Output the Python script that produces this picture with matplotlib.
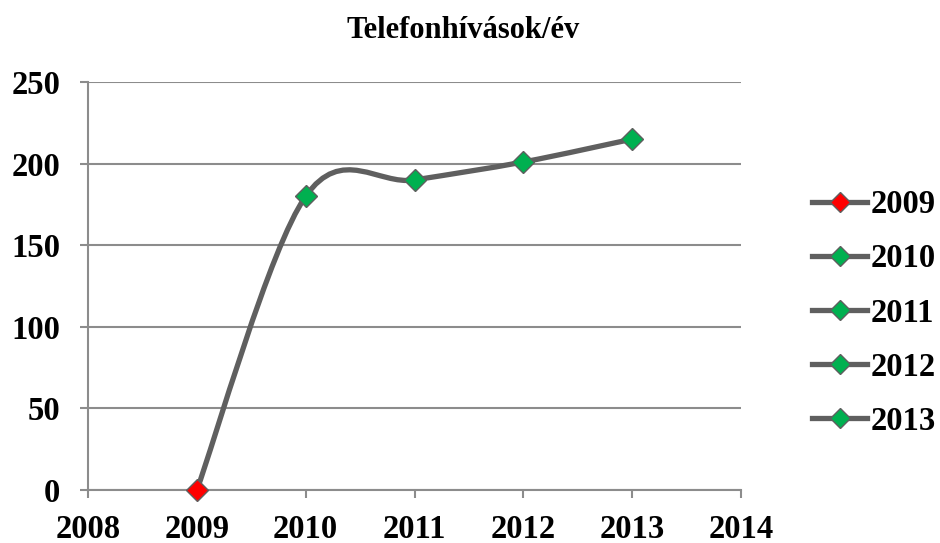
import matplotlib
matplotlib.use('Agg')

import matplotlib.pyplot as plt
from matplotlib.path import Path
import matplotlib.patches as patches

years = [2009, 2010, 2011, 2012, 2013]
calls = [0, 180, 190, 201, 215]
marker_colors = ['#FF0000', '#00B050', '#00B050', '#00B050', '#00B050']
labels = ['2009', '2010', '2011', '2012', '2013']
x_ticks = [2008, 2009, 2010, 2011, 2012, 2013, 2014]
y_ticks = [0, 50, 100, 150, 200, 250]

LINE = '#5F5F5F'
GRID = '#8C8C8C'
FONT = 'Liberation Serif'


def smooth_path(xs, ys):
    # Catmull-Rom style bezier, like Excel's smoothed line
    verts = [(xs[0], ys[0])]
    codes = [Path.MOVETO]
    n = len(xs)
    for i in range(n - 1):
        x0, y0 = (xs[i - 1], ys[i - 1]) if i > 0 else (xs[i], ys[i])
        x1, y1 = xs[i], ys[i]
        x2, y2 = xs[i + 1], ys[i + 1]
        x3, y3 = (xs[i + 2], ys[i + 2]) if i + 2 < n else (x2, y2)
        c1 = (x1 + (x2 - x0) / 6, y1 + (y2 - y0) / 6)
        c2 = (x2 - (x3 - x1) / 6, y2 - (y3 - y1) / 6)
        verts += [c1, c2, (x2, y2)]
        codes += [Path.CURVE4] * 3
    return Path(verts, codes)


fig = plt.figure(figsize=(9.4, 5.43), dpi=100)
ax = fig.add_axes([88 / 940, 53 / 543, (741 - 88) / 940, (490 - 82) / 543])

curve = patches.PathPatch(smooth_path(years, calls), facecolor='none',
                          edgecolor=LINE, linewidth=3.8, capstyle='round', zorder=3)
ax.add_patch(curve)

for x, y, c, lab in zip(years, calls, marker_colors, labels):
    ax.plot([x], [y], linestyle='-', color=LINE, linewidth=3.8, marker='D',
            markersize=11.5, markerfacecolor=c, markeredgecolor=LINE,
            markeredgewidth=1, label=lab, zorder=4, clip_on=False)

ax.set_xlim(2008, 2014)
ax.set_ylim(0, 250)
ax.set_xticks(x_ticks)
ax.set_yticks(y_ticks)
ax.set_xticklabels([str(t) for t in x_ticks])
ax.set_yticklabels([str(t) for t in y_ticks])

ax.yaxis.grid(True, color=GRID, linewidth=1.5)
ax.set_axisbelow(True)
for side in ['top', 'right']:
    ax.spines[side].set_visible(False)
for side in ['left', 'bottom']:
    ax.spines[side].set_color(GRID)
    ax.spines[side].set_linewidth(1.5)

ax.tick_params(axis='both', direction='out', length=6, width=1.5, color=GRID,
               labelsize=23.5)
ax.tick_params(axis='y', pad=14)
ax.tick_params(axis='x', pad=11)
for lbl in ax.get_xticklabels() + ax.get_yticklabels():
    lbl.set_fontfamily(FONT)
    lbl.set_fontweight('bold')

fig.text(463 / 940, 1 - 30 / 543, 'Telefonhívások/év', ha='center', va='center',
         fontsize=22, fontweight='bold', family=FONT)

leg = fig.legend(loc='center left', bbox_to_anchor=(812 / 940, 1 - 313 / 543),
                 frameon=False, prop={'family': FONT, 'weight': 'bold', 'size': 23.5},
                 handlelength=1.7, handletextpad=0.1, labelspacing=0.71,
                 markerscale=0.85, borderaxespad=0, borderpad=0)

plt.savefig('out.png', dpi=100, facecolor='white')
plt.close()
